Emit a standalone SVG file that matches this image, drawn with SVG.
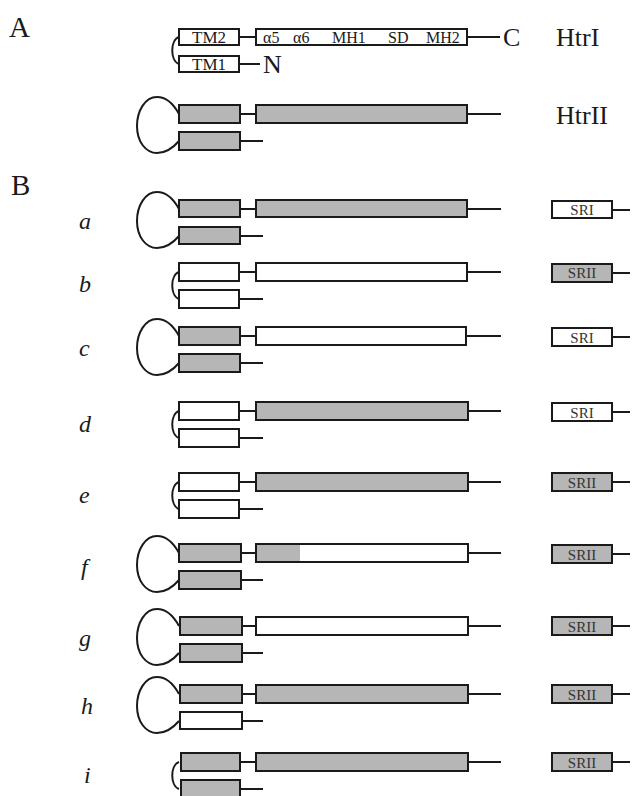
<svg xmlns="http://www.w3.org/2000/svg" width="632" height="796" viewBox="0 0 632 796">
  <style>
    .box { stroke: #1a1a1a; stroke-width: 2; }
    .w { fill: #ffffff; }
    .g { fill: #b6b6b6; }
    .ln { stroke: #1a1a1a; stroke-width: 2; fill: none; }
    .serif { font-family: "Liberation Serif", "Times New Roman", serif; fill: #1a1a1a; }
    .panel { font-size: 29px; }
    .big { font-size: 26px; }
    .lab { font-size: 24px; font-style: italic; }
    .tm { font-size: 17px; }
    .sr { font-size: 15px; fill: #333333; }
    .dom { font-size: 16px; }
  </style>
  <defs>
    <!-- omega-shaped loop joining the two TM helices (relative to row top) -->
    <path id="loop" d="M179,9 C173,-2 166,-8 157,-8 C145,-8 137,6 137,21 C137,37 146,48 157,48 C166,48 173,43 179,36"/>
    <!-- short bracket joining the two TM helices -->
    <path id="bracket" d="M179,9 C170,12 170,33 179,36"/>
  </defs>

  <!-- panel letters -->
  <text class="serif panel" x="9" y="37">A</text>
  <text class="serif panel" x="11" y="195">B</text>

  <!-- connectors: lines between domains and tails -->
  <g id="connectors">
    <!-- HtrI -->
    <line class="ln" x1="239" y1="37" x2="256" y2="37"/>
    <line class="ln" x1="467" y1="37" x2="500" y2="37"/>
    <line class="ln" x1="239" y1="64" x2="260" y2="64"/>
    <use href="#bracket" class="ln" transform="translate(0,28)"/>
    <!-- HtrII -->
    <use href="#loop" class="ln" transform="translate(0,105)"/>
    <line class="ln" x1="240" y1="114" x2="256" y2="114"/>
    <line class="ln" x1="467" y1="114" x2="501" y2="114"/>
    <line class="ln" x1="240" y1="141" x2="263" y2="141"/>
    <!-- rows a-i -->
    <use href="#loop" class="ln" transform="translate(0,200)"/>
    <use href="#bracket" class="ln" transform="translate(0,263)"/>
    <use href="#loop" class="ln" transform="translate(0,327)"/>
    <use href="#bracket" class="ln" transform="translate(0,402)"/>
    <use href="#bracket" class="ln" transform="translate(0,473)"/>
    <use href="#loop" class="ln" transform="translate(0,544)"/>
    <use href="#loop" class="ln" transform="translate(0,617)"/>
    <use href="#loop" class="ln" transform="translate(0,685)"/>
    <use href="#bracket" class="ln" transform="translate(0,753)"/>
    <path class="ln" d="M240,209H256M467,209H501M240,236H263
                        M240,272H256M467,272H501M240,299H263
                        M240,336H256M467,336H501M240,363H263
                        M240,411H256M467,411H501M240,438H263
                        M240,482H256M467,482H501M240,509H263
                        M240,553H256M467,553H501M240,580H263
                        M240,626H256M467,626H501M240,653H263
                        M240,694H256M467,694H501M240,721H263
                        M240,762H256M467,762H501M240,789H263"/>
    <!-- sensory rhodopsin tails -->
    <path class="ln" d="M612,210H630M612,273H630M612,337H630M612,412H630M612,482H630M612,554H630M612,626H630M612,694H630M612,762H630"/>
  </g>

  <!-- HtrI -->
  <g id="htr1">
    <rect class="box w" x="179" y="29" width="60" height="16"/>
    <text class="serif tm" x="209" y="43" text-anchor="middle">TM2</text>
    <rect class="box w" x="179" y="56" width="60" height="16"/>
    <text class="serif tm" x="209" y="70" text-anchor="middle">TM1</text>
    <rect class="box w" x="256" y="29" width="211" height="16"/>
    <text class="serif dom" x="263" y="43">α5</text>
    <text class="serif dom" x="293" y="43">α6</text>
    <text class="serif dom" x="332" y="43">MH1</text>
    <text class="serif dom" x="388" y="43">SD</text>
    <text class="serif dom" x="426" y="43">MH2</text>
    <text class="serif big" x="503" y="46">C</text>
    <text class="serif big" x="263" y="73">N</text>
    <text class="serif big" x="556" y="46">HtrI</text>
  </g>

  <!-- HtrII -->
  <g id="htr2">
    <rect class="box g" x="179" y="105" width="61" height="18"/>
    <rect class="box g" x="256" y="105" width="211" height="18"/>
    <rect class="box g" x="179" y="132" width="61" height="18"/>
    <text class="serif big" x="556" y="124">HtrII</text>
  </g>

  <!-- row a -->
  <g id="row-a">
    <text class="serif lab" x="79" y="229">a</text>
    <rect class="box g" x="179" y="200" width="61" height="17"/>
    <rect class="box g" x="256" y="200" width="211" height="17"/>
    <rect class="box g" x="179" y="227" width="61" height="17"/>
    <rect class="box w" x="552" y="201" width="60" height="17"/>
    <text class="serif sr" x="582" y="215" text-anchor="middle">SRI</text>
  </g>

  <!-- row b -->
  <g id="row-b">
    <text class="serif lab" x="79" y="292">b</text>
    <rect class="box w" x="179" y="263" width="60" height="18"/>
    <rect class="box w" x="256" y="263" width="211" height="18"/>
    <rect class="box w" x="179" y="290" width="60" height="18"/>
    <rect class="box g" x="552" y="264" width="60" height="18"/>
    <text class="serif sr" x="582" y="278" text-anchor="middle">SRII</text>
  </g>

  <!-- row c -->
  <g id="row-c">
    <text class="serif lab" x="79" y="356">c</text>
    <rect class="box g" x="179" y="327" width="61" height="18"/>
    <rect class="box w" x="256" y="327" width="210" height="18"/>
    <rect class="box g" x="179" y="354" width="61" height="18"/>
    <rect class="box w" x="552" y="328" width="60" height="18"/>
    <text class="serif sr" x="582" y="343" text-anchor="middle">SRI</text>
  </g>

  <!-- row d -->
  <g id="row-d">
    <text class="serif lab" x="79" y="432">d</text>
    <rect class="box w" x="179" y="402" width="60" height="18"/>
    <rect class="box g" x="256" y="402" width="212" height="18"/>
    <rect class="box w" x="179" y="429" width="60" height="18"/>
    <rect class="box w" x="552" y="403" width="60" height="18"/>
    <text class="serif sr" x="582" y="418" text-anchor="middle">SRI</text>
  </g>

  <!-- row e -->
  <g id="row-e">
    <text class="serif lab" x="79" y="503">e</text>
    <rect class="box w" x="179" y="473" width="60" height="18"/>
    <rect class="box g" x="256" y="473" width="212" height="18"/>
    <rect class="box w" x="179" y="500" width="60" height="18"/>
    <rect class="box g" x="552" y="473" width="60" height="18"/>
    <text class="serif sr" x="582" y="488" text-anchor="middle">SRII</text>
  </g>

  <!-- row f -->
  <g id="row-f">
    <text class="serif lab" x="81" y="575">f</text>
    <rect class="box g" x="179" y="544" width="62" height="18"/>
    <rect class="w" x="256" y="544" width="212" height="18"/>
    <rect class="g" x="256" y="544" width="44" height="18"/>
    <rect class="box" fill="none" x="256" y="544" width="212" height="18"/>
    <rect class="box g" x="179" y="571" width="62" height="18"/>
    <rect class="box g" x="552" y="545" width="60" height="18"/>
    <text class="serif sr" x="582" y="560" text-anchor="middle">SRII</text>
  </g>

  <!-- row g -->
  <g id="row-g">
    <text class="serif lab" x="79" y="646">g</text>
    <rect class="box g" x="180" y="617" width="62" height="18"/>
    <rect class="box w" x="256" y="617" width="212" height="18"/>
    <rect class="box g" x="180" y="644" width="62" height="18"/>
    <rect class="box g" x="552" y="617" width="60" height="18"/>
    <text class="serif sr" x="582" y="632" text-anchor="middle">SRII</text>
  </g>

  <!-- row h -->
  <g id="row-h">
    <text class="serif lab" x="81" y="714">h</text>
    <rect class="box g" x="180" y="685" width="62" height="18"/>
    <rect class="box g" x="256" y="685" width="212" height="18"/>
    <rect class="box w" x="180" y="712" width="62" height="17"/>
    <rect class="box g" x="552" y="685" width="60" height="18"/>
    <text class="serif sr" x="582" y="700" text-anchor="middle">SRII</text>
  </g>

  <!-- row i -->
  <g id="row-i">
    <text class="serif lab" x="84" y="783">i</text>
    <rect class="box g" x="181" y="753" width="59" height="18"/>
    <rect class="box g" x="256" y="753" width="212" height="18"/>
    <rect class="box g" x="181" y="780" width="59" height="18"/>
    <rect class="box g" x="552" y="753" width="60" height="18"/>
    <text class="serif sr" x="582" y="768" text-anchor="middle">SRII</text>
  </g>
</svg>
